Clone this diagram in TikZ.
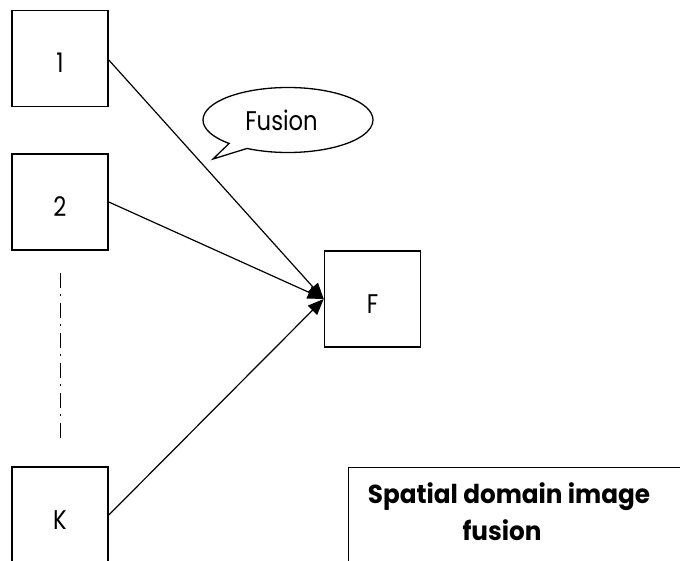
\documentclass[tikz,border=0pt]{standalone}
\usepackage{fontspec}
\setmainfont{Poppins}
\newfontfamily\geofont[FakeStretch=0.84]{Poppins}
\newfontfamily\geobold[FakeStretch=0.95]{Poppins Bold}
\usetikzlibrary{arrows.meta,shapes.callouts}
\begin{document}
\begin{tikzpicture}[x=1pt,y=-1pt,
  imgbox/.style={draw,line width=1.6pt,minimum width=96pt,minimum height=96pt,inner sep=0pt,
    text height=29pt,text depth=0pt,font=\geofont\fontsize{27}{30}\selectfont},
  link/.style={line width=1.2pt,-{Triangle[length=16pt,width=13pt]}},
  caption/.style={draw=none,align=center,inner sep=0pt,font=\geobold\fontsize{26}{37}\selectfont}]
\useasboundingbox (0,0) rectangle (680,561);
\clip (0,0) rectangle (680,561);
% source images
\node[imgbox] (b1) at (60,58.5) {1};
\node[imgbox] (b2) at (60,202) {2};
\node[imgbox] (bk) at (60,515) {K};
% fused result
\node[imgbox] (f) at (372.5,299) {F};
% the elided images between 2 and K
\coordinate (d1) at (60,273);
\coordinate (d2) at (60,440);
\draw[line width=1pt,dash pattern=on 15pt off 6pt on 2pt off 7pt] (d1) -- (d2);
% fusion arrows
\draw[link] (b1.east |- 0,60) -- (f.west);
\draw[link] (b2.east) -- (f.west);
\draw[link] (bk.east) -- (f.west);
% speech bubble
\node[ellipse callout,draw,line width=1.3pt,minimum width=170pt,minimum height=65pt,
  callout absolute pointer={(213,159)},font=\geofont\fontsize{27}{30}\selectfont] (bubble) at (288,120) {Fusion\hspace*{13pt}};
% caption panel
\node[draw,line width=1.4pt,minimum width=400pt,minimum height=200pt,anchor=north west] (panel) at (348,467) {};
\node[caption] (cap) at (509,512) {Spatial domain image\\fusion\hspace*{14pt}};
\end{tikzpicture}
\end{document}
